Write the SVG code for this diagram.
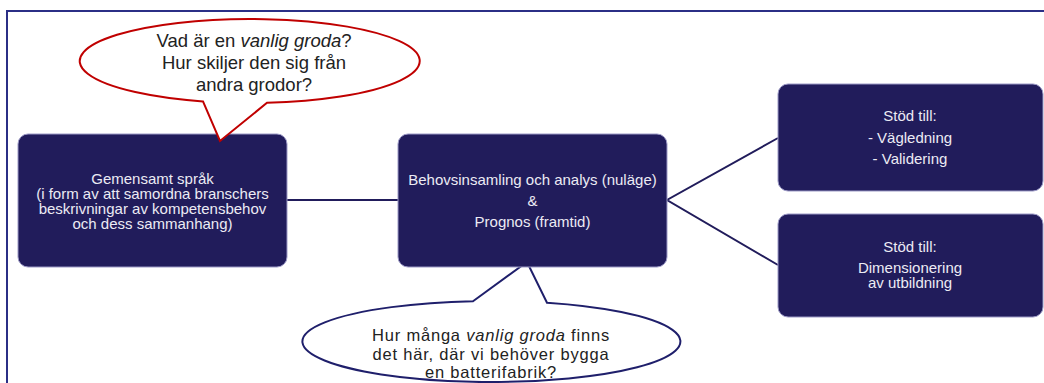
<svg xmlns="http://www.w3.org/2000/svg" width="1044" height="383" viewBox="0 0 1044 383">
  <style>
    .box { fill: #211c5b; stroke: #9c99c6; stroke-width: 1; }
    .boxtext { font-family: "Liberation Sans", Arial, sans-serif; font-size: 15px; fill: #ecebf4; text-anchor: middle; }
    .bubbletext { font-family: "Liberation Sans", Arial, sans-serif; font-size: 18.5px; fill: #222222; text-anchor: middle; }
    .bubbletext.tight { font-size: 16.5px; letter-spacing: 0.8px; }
    .link { fill: none; stroke: #211c5b; stroke-width: 2; }
    .frame { fill: none; stroke: #2b2f86; stroke-width: 2; }
  </style>

  <rect width="1044" height="383" fill="#ffffff"/>

  <!-- page frame -->
  <path class="frame" d="M7 384 V11 H1045"/>

  <!-- lines between boxes -->
  <g id="connectors">
    <line class="link" x1="287" y1="200" x2="398" y2="200"/>
    <polyline class="link" points="778,138 667,200 778,265"/>
  </g>

  <!-- question bubble under the middle box (tail tucked behind it) -->
  <g id="bubble-bottom">
    <path d="M473 301.2 L527 262 L547 302.8 A189 40.5 0 1 1 473 301.2 Z" fill="#ffffff" stroke="#1f1f6b" stroke-width="2"/>
    <text class="bubbletext tight" x="491" y="341">Hur många <tspan font-style="italic">vanlig groda</tspan> finns</text>
    <text class="bubbletext tight" x="491" y="359.5">det här, där vi behöver bygga</text>
    <text class="bubbletext tight" x="491" y="377.5">en batterifabrik?</text>
  </g>

  <g id="node-sprak">
    <rect class="box" x="18" y="134" width="269" height="133" rx="10"/>
    <text class="boxtext" x="152.5" y="183.5">Gemensamt språk</text>
    <text class="boxtext" x="152.5" y="198.5">(i form av att samordna branschers</text>
    <text class="boxtext" x="152.5" y="213.5">beskrivningar av kompetensbehov</text>
    <text class="boxtext" x="152.5" y="228.5">och dess sammanhang)</text>
  </g>

  <g id="node-behov">
    <rect class="box" x="398" y="134" width="269" height="133" rx="10"/>
    <text class="boxtext" x="532.5" y="185">Behovsinsamling och analys (nuläge)</text>
    <text class="boxtext" x="532.5" y="206">&amp;</text>
    <text class="boxtext" x="532.5" y="227">Prognos (framtid)</text>
  </g>

  <g id="node-vagledning">
    <rect class="box" x="778" y="84" width="265" height="107" rx="10"/>
    <text class="boxtext" x="910" y="121">Stöd till:</text>
    <text class="boxtext" x="910" y="142.5">- Vägledning</text>
    <text class="boxtext" x="910" y="164">- Validering</text>
  </g>

  <g id="node-dimensionering">
    <rect class="box" x="778" y="214" width="265" height="103" rx="10"/>
    <text class="boxtext" x="910" y="251.5">Stöd till:</text>
    <text class="boxtext" x="910" y="273">Dimensionering</text>
    <text class="boxtext" x="910" y="288">av utbildning</text>
  </g>

  <!-- question bubble above the left box -->
  <g id="bubble-top">
    <path d="M203 101.4 L220 141 L267 102.8 A170 42 0 1 0 203 101.4 Z" fill="#ffffff" stroke="#c00000" stroke-width="2"/>
    <text class="bubbletext" x="254" y="46.5">Vad är en <tspan font-style="italic">vanlig groda</tspan>?</text>
    <text class="bubbletext" x="254" y="69">Hur skiljer den sig från</text>
    <text class="bubbletext" x="254" y="91">andra grodor?</text>
  </g>
</svg>
